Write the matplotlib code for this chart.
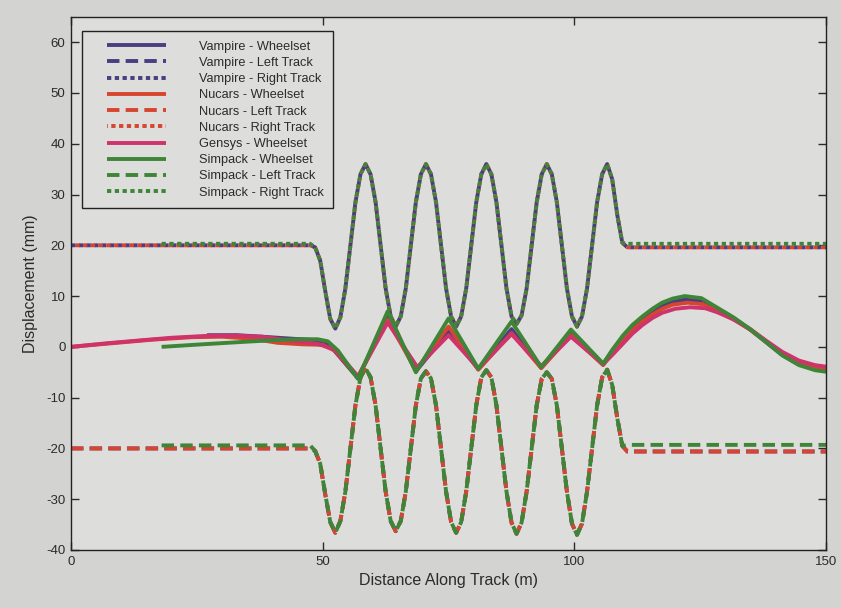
import matplotlib
matplotlib.use("Agg")
import matplotlib.pyplot as plt
from matplotlib.lines import Line2D
from matplotlib.legend_handler import HandlerLine2D

plt.rcParams['font.family'] = ['Liberation Sans', 'DejaVu Sans']
plt.rcParams['axes.unicode_minus'] = False

# ---------------- data ----------------
# track lateral position, oscillating section (distance in m)
TRACK_X = [48.5, 49.5, 50.5, 51.5, 52.5, 53.5, 54.5, 55.5, 56.5, 57.5,
           58.5, 59.5, 60.5, 61.5, 62.5, 63.5, 64.5, 65.5, 66.5, 67.5,
           68.5, 69.5, 70.5, 71.5, 72.5, 73.5, 74.5, 75.5, 76.5, 77.5,
           78.5, 79.5, 80.5, 81.5, 82.5, 83.5, 84.5, 85.5, 86.5, 87.5,
           88.5, 89.5, 90.5, 91.5, 92.5, 93.5, 94.5, 95.5, 96.5, 97.5,
           98.5, 99.5, 100.5, 101.5, 102.5, 103.5, 104.5, 105.5, 106.5, 107.5,
           108.5, 109.5]
RIGHT_Y = [19.6, 17.0, 11.0, 5.5, 3.6, 5.8, 11.5, 20.0, 28.5, 34.0,
           36.0, 34.0, 28.5, 20.0, 11.5, 6.0, 4.0, 6.0, 11.5, 20.0,
           28.5, 34.0, 36.0, 34.0, 28.5, 20.0, 11.5, 6.0, 4.0, 6.0,
           11.5, 20.0, 28.5, 34.0, 36.0, 34.0, 28.5, 20.0, 11.5, 6.0,
           4.5, 6.2, 11.5, 20.0, 28.5, 34.0, 36.0, 34.0, 28.5, 20.0,
           11.5, 6.0, 4.0, 6.0, 11.5, 20.0, 28.5, 34.0, 36.0, 33.0,
           26.0, 20.5]
LEFT_Y = [-20.5, -23.0, -29.0, -34.5, -36.6, -34.3, -28.5, -20.0, -11.5, -6.0,
          -4.2, -6.0, -11.5, -20.0, -28.5, -34.3, -36.3, -34.3, -28.5, -20.0,
          -11.5, -6.2, -4.8, -6.2, -11.5, -20.0, -28.5, -34.5, -36.6, -34.5,
          -28.5, -20.0, -11.5, -6.0, -4.6, -6.0, -11.5, -20.0, -28.5, -34.6,
          -36.8, -34.6, -28.5, -20.0, -11.5, -6.3, -5.0, -6.3, -11.5, -20.0,
          -28.5, -34.8, -37.0, -34.8, -28.5, -20.0, -11.5, -6.0, -4.5, -7.5,
          -14.0, -19.5]

# flat levels before / after the oscillating section: (start x, level before, level after)
VN_RIGHT_FLAT = (0, 20.0, 19.6)
VN_LEFT_FLAT = (0, -20.0, -20.6)
SP_RIGHT_FLAT = (18, 20.3, 20.3)
SP_LEFT_FLAT = (18, -19.4, -19.3)
FLAT_X = (47.5, 110.5, 150)

# wheelset lateral displacement
VAMPIRE_WS_X = [27, 33, 38, 44, 49, 51.5, 57.0, 62.9, 68.5, 75.0, 80.9, 87.5, 93.4, 99.3,
                105.7, 107.5, 109.6, 111.5, 113.5, 115.5, 117.4, 119.5, 122.0, 125.2,
                128.4, 131.6, 134.9, 138.1, 141.3, 144.6, 147.8, 150]
VAMPIRE_WS_Y = [2.3, 2.3, 2.0, 1.6, 1.3, 0.2, -6.2, 6.2, -4.8, 3.0, -4.4, 3.5, -4.1, 2.8,
                -3.4, -0.9, 1.7, 3.8, 5.5, 7.0, 8.2, 8.9, 9.3, 9.0, 7.4, 5.6, 3.4, 0.9,
                -1.6, -3.4, -4.4, -4.7]

NUCARS_WS_X = [0, 8, 16, 24, 30, 36, 41, 46, 50, 52.5, 57.0, 62.9, 68.5, 75.0, 80.9, 87.5,
               93.4, 99.3, 105.7, 107.5, 109.6, 111.5, 113.5, 115.5, 117.4, 119.5, 122.5,
               125.5, 128.4, 131.6, 134.9, 138.1, 141.3, 144.6, 147.8, 150]
NUCARS_WS_Y = [0, 0.7, 1.4, 1.9, 2.0, 1.6, 0.8, 0.5, 0.4, -0.8, -6.0, 5.3, -4.6, 4.0, -4.5,
               2.7, -4.2, 2.3, -3.6, -1.2, 1.3, 3.3, 5.0, 6.4, 7.5, 8.3, 8.7, 8.4, 7.0,
               5.4, 3.4, 1.0, -1.4, -3.2, -4.2, -4.6]

GENSYS_WS_X = [0, 7, 14, 20, 27.6, 33, 38, 44, 49, 52.5, 57.0, 62.9, 68.8, 75.0, 80.9,
               87.5, 93.4, 99.3, 105.7, 107.5, 109.6, 111.5, 113.5, 115.5, 117.4, 120,
               123, 126, 128.4, 131.6, 134.9, 138.1, 141.3, 144.6, 147.8, 150]
GENSYS_WS_Y = [0, 0.7, 1.3, 1.8, 2.2, 2.2, 2.0, 1.2, 0.6, -0.6, -5.8, 4.8, -4.0, 2.3,
               -4.2, 2.5, -3.8, 2.0, -3.4, -1.6, 0.6, 2.6, 4.3, 5.7, 6.7, 7.5, 7.8, 7.6,
               6.8, 5.4, 3.5, 1.2, -1.0, -2.7, -3.6, -3.9]

SIMPACK_WS_X = [18, 26, 34.5, 40, 44.7, 49, 51, 53, 57.0, 62.9, 68.5, 75.0, 80.9, 87.5,
                93.4, 99.3, 105.7, 107.5, 109.6, 111.5, 113.5, 115.5, 117.4, 119.5, 121.9,
                125.2, 128.4, 131.6, 134.9, 138.1, 141.3, 144.6, 147.8, 150]
SIMPACK_WS_Y = [0, 0.5, 1.0, 1.3, 1.5, 1.5, 1.1, -0.7, -6.3, 7.0, -5.0, 5.6, -4.3, 5.0,
                -4.0, 3.4, -3.3, -0.6, 2.2, 4.3, 6.0, 7.5, 8.7, 9.5, 10.0, 9.6, 7.7, 5.8,
                3.5, 0.9, -1.7, -3.6, -4.6, -4.9]

LABELS = ["Vampire - Wheelset", "Vampire - Left Track", "Vampire - Right Track",
          "Nucars - Wheelset", "Nucars - Left Track", "Nucars - Right Track",
          "Gensys - Wheelset",
          "Simpack - Wheelset", "Simpack - Left Track", "Simpack - Right Track"]

C_VAMPIRE = "#4b3d82"
C_NUCARS = "#d6452f"
C_GENSYS = "#cf336c"
C_SIMPACK = "#3f8538"


def track(flat, osc_y):
    x0, before, after = flat
    xs = [x0, FLAT_X[0]] + TRACK_X + [FLAT_X[1], FLAT_X[2]]
    ys = [before, before] + osc_y + [after, after]
    return xs, ys


# ---------------- figure ----------------
BG_FIG = "#d3d3d1"
BG_AX = "#dddddb"
TXT = "#2b2b2b"

fig = plt.figure(figsize=(8.41, 6.08), dpi=100, facecolor=BG_FIG)
ax = fig.add_axes([0.0844, 0.0954, 0.898, 0.877], facecolor=BG_AX)

LW = 2.8
solid = dict(lw=LW, solid_capstyle='butt')
dashed = dict(lw=LW, linestyle=(0, (3.2, 1.6)), dash_capstyle='butt')
dotted = dict(lw=LW, linestyle=(0, (1.1, 0.9)), dash_capstyle='butt')

handles = []
# Vampire
h, = ax.plot(VAMPIRE_WS_X, VAMPIRE_WS_Y, color=C_VAMPIRE, **solid); handles.append(h)
xs, ys = track(VN_LEFT_FLAT, LEFT_Y)
h, = ax.plot(xs, ys, color=C_VAMPIRE, **dashed); handles.append(h)
xs, ys = track(VN_RIGHT_FLAT, RIGHT_Y)
h, = ax.plot(xs, ys, color=C_VAMPIRE, **dotted); handles.append(h)
# Nucars
h, = ax.plot(NUCARS_WS_X, NUCARS_WS_Y, color=C_NUCARS, **solid); handles.append(h)
xs, ys = track(VN_LEFT_FLAT, LEFT_Y)
h, = ax.plot(xs, ys, color=C_NUCARS, **dashed); handles.append(h)
xs, ys = track(VN_RIGHT_FLAT, RIGHT_Y)
h, = ax.plot(xs, ys, color=C_NUCARS, linestyle=(0.9, (1.1, 0.9)), lw=LW, dash_capstyle='butt'); handles.append(h)
# Gensys
h, = ax.plot(GENSYS_WS_X, GENSYS_WS_Y, color=C_GENSYS, **solid); handles.append(h)
# Simpack
h, = ax.plot(SIMPACK_WS_X, SIMPACK_WS_Y, color=C_SIMPACK, **solid); handles.append(h)
xs, ys = track(SP_LEFT_FLAT, LEFT_Y)
h, = ax.plot(xs, ys, color=C_SIMPACK, **dashed); handles.append(h)
xs, ys = track(SP_RIGHT_FLAT, RIGHT_Y)
h, = ax.plot(xs, ys, color=C_SIMPACK, **dotted); handles.append(h)

ax.set_xlim(0, 150)
ax.set_ylim(-40, 65)
ax.set_xticks([0, 50, 100, 150])
ax.set_yticks(list(range(-40, 61, 10)))
ax.tick_params(direction='in', length=6, width=1, top=True, right=True,
               labelsize=9.5, colors=TXT, pad=4)
for s in ax.spines.values():
    s.set_color("#222222")
    s.set_linewidth(1.0)

ax.set_xlabel("Distance Along Track (m)", fontsize=11.5, color=TXT, labelpad=4)
ax.set_ylabel("Displacement (mm)", fontsize=11.5, color=TXT, labelpad=6)

leg = ax.legend(handles, LABELS, loc='upper left', bbox_to_anchor=(0.006, 0.985),
                fontsize=9.2, handlelength=5.8, handletextpad=2.6, labelspacing=0.33,
                borderpad=0.75, fancybox=False, framealpha=1, facecolor=BG_AX,
                edgecolor="#222222",
                handler_map={Line2D: HandlerLine2D(xpad=1.2)})
leg.get_frame().set_linewidth(1.0)
for t in leg.get_texts():
    t.set_color(TXT)

fig.savefig("out.png", dpi=100, facecolor=BG_FIG)
